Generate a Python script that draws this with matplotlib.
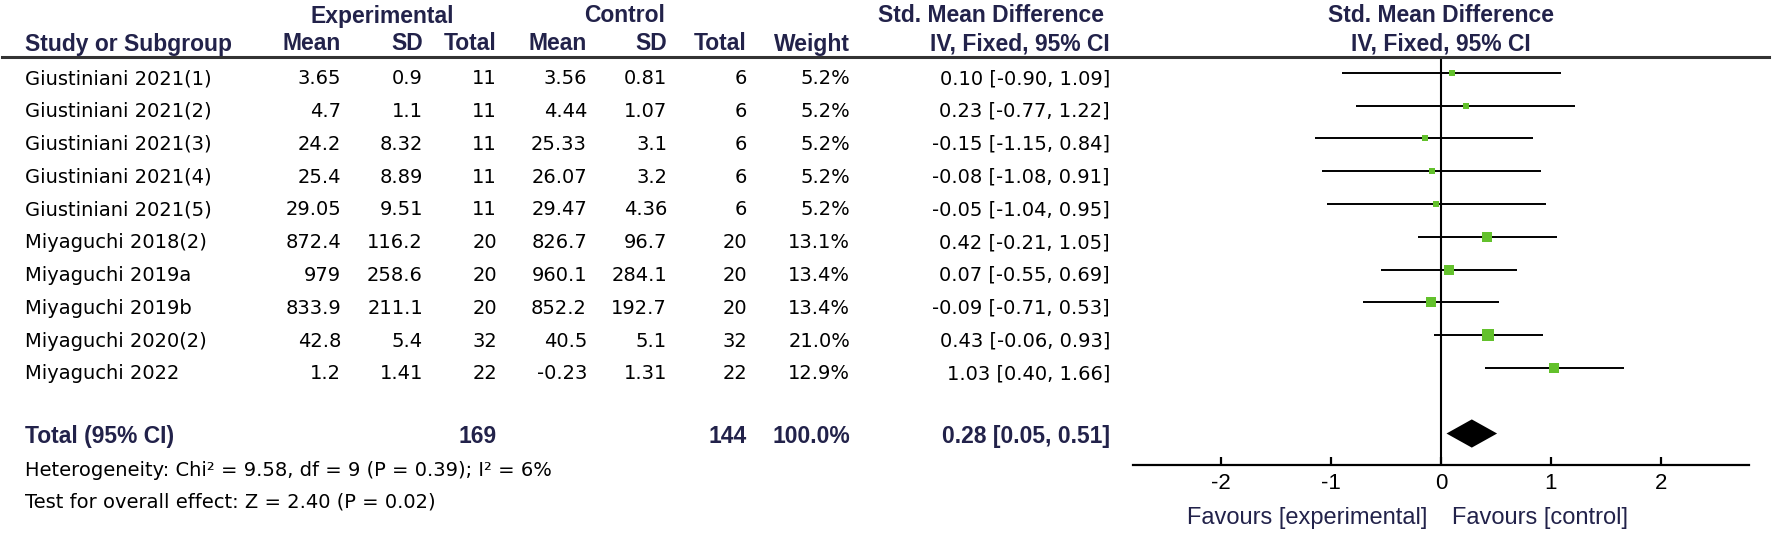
import matplotlib
matplotlib.use("Agg")
import matplotlib.pyplot as plt
import matplotlib.transforms as mtransforms
from matplotlib import font_manager
from matplotlib.lines import Line2D
import numpy as np

# ---- data ----
studies = ["Giustiniani 2021(1)", "Giustiniani 2021(2)", "Giustiniani 2021(3)",
           "Giustiniani 2021(4)", "Giustiniani 2021(5)", "Miyaguchi 2018(2)",
           "Miyaguchi 2019a", "Miyaguchi 2019b", "Miyaguchi 2020(2)", "Miyaguchi 2022"]
exp_mean = [3.65, 4.7, 24.2, 25.4, 29.05, 872.4, 979, 833.9, 42.8, 1.2]
exp_sd = [0.9, 1.1, 8.32, 8.89, 9.51, 116.2, 258.6, 211.1, 5.4, 1.41]
exp_n = [11, 11, 11, 11, 11, 20, 20, 20, 32, 22]
ctl_mean = [3.56, 4.44, 25.33, 26.07, 29.47, 826.7, 960.1, 852.2, 40.5, -0.23]
ctl_sd = [0.81, 1.07, 3.1, 3.2, 4.36, 96.7, 284.1, 192.7, 5.1, 1.31]
ctl_n = [6, 6, 6, 6, 6, 20, 20, 20, 32, 22]
weight = [5.2, 5.2, 5.2, 5.2, 5.2, 13.1, 13.4, 13.4, 21.0, 12.9]
smd = [0.10, 0.23, -0.15, -0.08, -0.05, 0.42, 0.07, -0.09, 0.43, 1.03]
ci_lo = [-0.90, -0.77, -1.15, -1.08, -1.04, -0.21, -0.55, -0.71, -0.06, 0.40]
ci_hi = [1.09, 1.22, 0.84, 0.91, 0.95, 1.05, 0.69, 0.53, 0.93, 1.66]

total_exp_n = 169
total_ctl_n = 144
total_weight = 100.0
total_smd, total_lo, total_hi = 0.28, 0.05, 0.51
heterogeneity = "Heterogeneity: Chi\u00b2 = 9.58, df = 9 (P = 0.39); I\u00b2 = 6%"
overall = "Test for overall effect: Z = 2.40 (P = 0.02)"
xticks = [-2, -1, 0, 1, 2]


def have_font(name):
    try:
        font_manager.findfont(font_manager.FontProperties(family=name), fallback_to_default=False)
        return True
    except Exception:
        return False


# ---- look ----
W, H = 1772, 535
NAVY = "#22224a"
GREEN = "#63c12c"
BODY = dict(family="DejaVu Sans", size=14, color="black")
BOLD = dict(family="Liberation Sans", size=16.5, weight="bold", color=NAVY)
if have_font("Liberation Sans Narrow"):
    HEAD = dict(family="Liberation Sans Narrow", size=19.5, weight="bold", color=NAVY)
    TICKFONT = dict(family="Liberation Sans Narrow", fontsize=18)
else:
    HEAD = BOLD
    TICKFONT = dict(family="Liberation Sans", fontsize=16)
TOTAL_ROW = 11

plt.rcParams["axes.unicode_minus"] = False
fig = plt.figure(figsize=(W / 100, H / 100), dpi=100)
fig.patch.set_facecolor("white")

ax = fig.add_axes([1133 / W, 1 - 465 / H, 616 / W, 408 / H])
ax.set_xlim(-2.8, 2.8)
ax.set_ylim(11.96, -0.48)
for s in ["top", "right", "left"]:
    ax.spines[s].set_visible(False)
ax.spines["bottom"].set_linewidth(1.6)
ax.set_yticks([])
ax.set_xticks(xticks)
ax.set_xticklabels([str(t) for t in xticks], **TICKFONT)
ax.tick_params(axis="x", direction="in", length=6, width=1.6, pad=6)
ax.axvline(0, color="black", lw=1.5)
ax.patch.set_alpha(0)

for i in range(len(studies)):
    ax.plot([ci_lo[i], ci_hi[i]], [i, i], color="black", lw=1.4, solid_capstyle="butt")
    ax.plot(smd[i], i, marker="s", ms=1.9 * np.sqrt(weight[i]), color=GREEN, mew=0)

ax.fill([total_lo, total_smd, total_hi, total_smd],
        [TOTAL_ROW, TOTAL_ROW - 0.43, TOTAL_ROW, TOTAL_ROW + 0.43], color="black", lw=0)

# header rule across the whole figure
fig.add_artist(Line2D([2 / W, 1769 / W], [1 - 57 / H, 1 - 57 / H],
                      transform=fig.transFigure, color="#333333", lw=2.2))

# ---- table ----
row_tr = mtransforms.blended_transform_factory(fig.transFigure, ax.transData)
col = {"study": 25, "em": 341, "es": 423, "en": 497, "cm": 587, "cs": 667,
       "cn": 747, "w": 850, "ci": 1110}


def head(x, y, s, ha="right"):
    fig.text(x / W, 1 - y / H, s, ha=ha, va="center", **HEAD)


head(382, 16, "Experimental", "center")
head(625, 16, "Control", "center")
head(1104, 16, "Std. Mean Difference")
head(1441, 16, "Std. Mean Difference", "center")
head(col["study"], 44, "Study or Subgroup", "left")
for key, lab in [("em", "Mean"), ("es", "SD"), ("en", "Total"), ("cm", "Mean"),
                 ("cs", "SD"), ("cn", "Total"), ("w", "Weight"), ("ci", "IV, Fixed, 95% CI")]:
    head(col[key], 44, lab)
head(1441, 44, "IV, Fixed, 95% CI", "center")

for i in range(len(studies)):
    y = i + 0.18
    cells = [("em", str(exp_mean[i])), ("es", str(exp_sd[i])), ("en", str(exp_n[i])),
             ("cm", str(ctl_mean[i])), ("cs", str(ctl_sd[i])), ("cn", str(ctl_n[i])),
             ("w", f"{weight[i]:.1f}%"),
             ("ci", f"{smd[i]:.2f} [{ci_lo[i]:.2f}, {ci_hi[i]:.2f}]")]
    fig.text(col["study"] / W, y, studies[i], transform=row_tr, ha="left", va="center", **BODY)
    for key, s in cells:
        fig.text(col[key] / W, y, s, transform=row_tr, ha="right", va="center", **BODY)

yt = TOTAL_ROW + 0.1
fig.text(col["study"] / W, yt, "Total (95% CI)", transform=row_tr, ha="left", va="center", **HEAD)
fig.text(col["en"] / W, yt, str(total_exp_n), transform=row_tr, ha="right", va="center", **BOLD)
fig.text(col["cn"] / W, yt, str(total_ctl_n), transform=row_tr, ha="right", va="center", **BOLD)
fig.text(col["w"] / W, yt, f"{total_weight:.1f}%", transform=row_tr, ha="right", va="center", **BOLD)
fig.text(col["ci"] / W, yt, f"{total_smd:.2f} [{total_lo:.2f}, {total_hi:.2f}]",
         transform=row_tr, ha="right", va="center", **BOLD)

fig.text(col["study"] / W, 1 - 470 / H, heterogeneity, ha="left", va="center", **BODY)
fig.text(col["study"] / W, 1 - 502 / H, overall, ha="left", va="center", **BODY)

fav_tr = mtransforms.blended_transform_factory(ax.transData, fig.transFigure)
fig.text(-0.12, 1 - 518 / H, "Favours [experimental]", transform=fav_tr, ha="right",
         va="center", family="Liberation Sans", size=17, color=NAVY)
fig.text(0.1, 1 - 518 / H, "Favours [control]", transform=fav_tr, ha="left",
         va="center", family="Liberation Sans", size=17, color=NAVY)

fig.savefig("out.png", dpi=100, facecolor="white")
